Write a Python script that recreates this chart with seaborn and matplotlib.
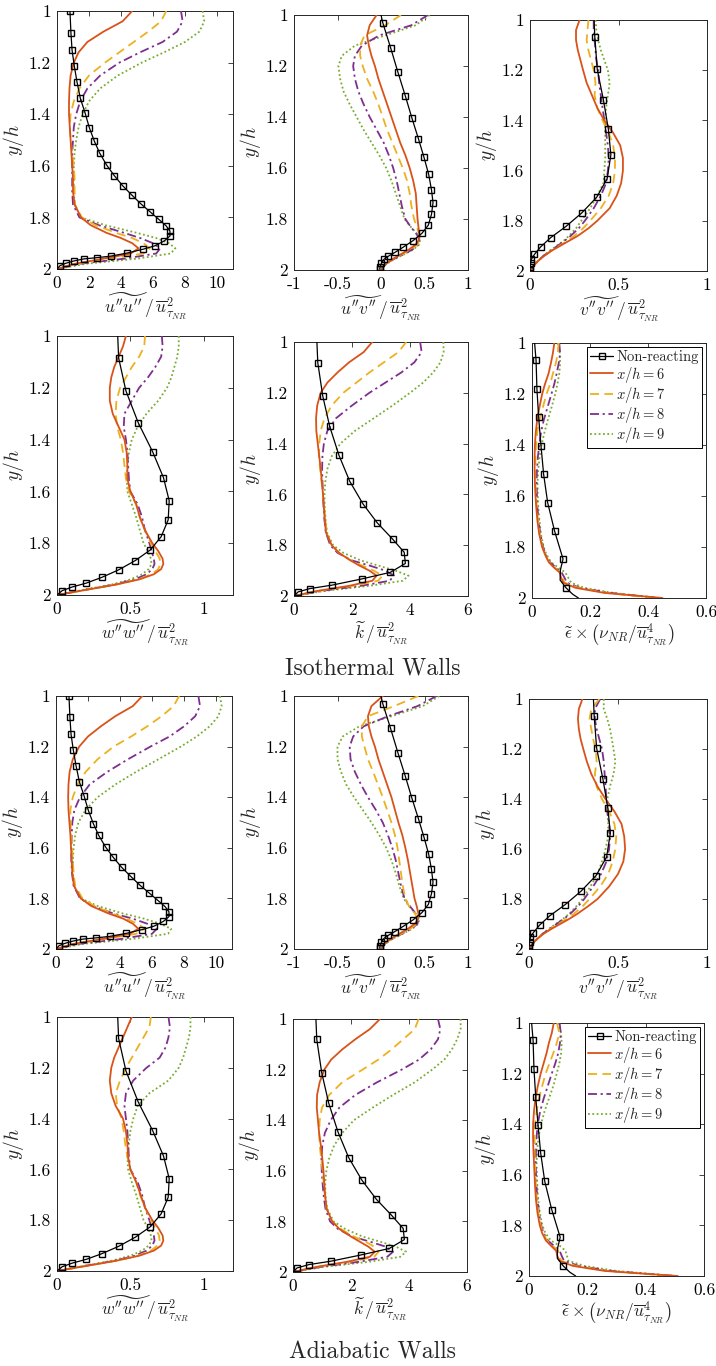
import matplotlib
matplotlib.use("Agg")
import matplotlib.pyplot as plt
from matplotlib.lines import Line2D
import seaborn as sns

# ---------------------------------------------------------------------------
# Wall-normal stations (y/h) of the reacting profiles
Y_GRID = [1.00, 1.04, 1.08, 1.12, 1.16, 1.20, 1.25, 1.30, 1.35, 1.40, 1.45,
          1.50, 1.55, 1.60, 1.65, 1.70, 1.75, 1.80, 1.83, 1.86, 1.88, 1.90,
          1.92, 1.94, 1.96, 1.98, 2.00]

# Non-reacting reference profiles: (y/h, value) pairs
NR_UU_Y = [1.000, 1.084, 1.151, 1.213, 1.275, 1.339, 1.394, 1.452, 1.504, 1.551,
           1.597, 1.638, 1.677, 1.713, 1.748, 1.779, 1.807, 1.832, 1.853, 1.872,
           1.891, 1.910, 1.923, 1.938, 1.950, 1.956, 1.961, 1.969, 1.978, 1.987,
           2.000]
NR_UU = [0.81, 0.87, 0.94, 1.08, 1.25, 1.46, 1.75, 2.02, 2.33, 2.67, 3.10, 3.58,
         4.10, 4.67, 5.25, 5.83, 6.35, 6.81, 7.06, 7.06, 6.71, 6.12, 5.40, 4.40,
         3.37, 2.50, 1.67, 1.04, 0.54, 0.19, 0.00]

NR_UV_Y = [1.000, 1.030, 1.128, 1.225, 1.318, 1.405, 1.485, 1.558, 1.625, 1.685,
           1.736, 1.782, 1.824, 1.856, 1.885, 1.911, 1.931, 1.946, 1.958, 1.974,
           1.987, 1.997]
NR_UV = [0.000, 0.020, 0.110, 0.195, 0.280, 0.356, 0.430, 0.494, 0.548, 0.580,
         0.598, 0.580, 0.544, 0.471, 0.368, 0.253, 0.160, 0.084, 0.034, 0.004,
         -0.010, -0.015]

NR_VV_Y = [1.000, 1.066, 1.197, 1.319, 1.436, 1.537, 1.632, 1.706, 1.769, 1.822,
           1.867, 1.904, 1.934, 1.953, 1.970, 1.984, 1.995]
NR_VV = [0.362, 0.366, 0.380, 0.415, 0.443, 0.457, 0.436, 0.377, 0.292, 0.204,
         0.117, 0.060, 0.025, 0.008, 0.004, 0.000, 0.000]

NR_WW_Y = [1.000, 1.084, 1.212, 1.335, 1.447, 1.547, 1.636, 1.710, 1.775, 1.826,
           1.867, 1.903, 1.932, 1.954, 1.969, 1.983, 2.000]
NR_WW = [0.414, 0.420, 0.470, 0.554, 0.652, 0.726, 0.765, 0.758, 0.710, 0.636,
         0.534, 0.420, 0.305, 0.200, 0.104, 0.036, 0.000]

NR_K_Y = [1.000, 1.081, 1.212, 1.332, 1.446, 1.548, 1.636, 1.712, 1.776, 1.828,
          1.872, 1.907, 1.933, 1.957, 1.971, 1.984, 2.000]
NR_K = [0.79, 0.82, 0.99, 1.23, 1.55, 1.92, 2.37, 2.87, 3.40, 3.80, 3.84, 3.32,
        2.33, 1.32, 0.54, 0.14, 0.00]

NR_EPS_Y = [1.000, 1.068, 1.181, 1.292, 1.403, 1.514, 1.626, 1.738, 1.847, 1.890,
            1.930, 1.961, 1.985, 2.000]
NR_EPS = [0.009, 0.014, 0.017, 0.023, 0.031, 0.040, 0.054, 0.078, 0.107, 0.098,
          0.097, 0.118, 0.140, 0.160]

# marker indices on the non-reacting curves
NR_UU_MARKS = list(range(0, 30))
NR_UV_MARKS = list(range(1, 22))
NR_VV_MARKS = list(range(1, 17))
NR_WW_MARKS = list(range(1, 16))
NR_K_MARKS = list(range(1, 16))
NR_EPS_MARKS = [1, 2, 3, 4, 5, 6, 7, 8, 11]

# ---------------------------------------------------------------------------
# Reacting profiles, isothermal walls; rows are x/h = 6, 7, 8, 9
ISO_UU = [
    [4.70, 4.10, 2.90, 1.90, 1.35, 1.05, 0.85, 0.78, 0.75, 0.75, 0.80, 0.85, 0.90,
     0.95, 1.00, 1.00, 1.10, 1.50, 2.10, 3.10, 4.00, 4.70, 5.10, 4.60, 2.90, 1.10, 0.00],
    [6.83, 6.50, 5.70, 4.80, 3.90, 3.00, 2.00, 1.40, 1.05, 0.85, 0.80, 0.85, 0.95,
     1.05, 1.10, 1.10, 1.12, 1.55, 2.40, 3.70, 4.70, 5.40, 5.80, 5.40, 3.40, 1.20, 0.00],
    [7.75, 7.85, 7.50, 6.60, 5.20, 3.90, 2.70, 1.90, 1.45, 1.20, 1.05, 1.00, 0.95,
     0.95, 0.95, 0.95, 1.00, 1.40, 2.60, 4.20, 5.20, 6.00, 6.45, 6.20, 4.20, 1.40, 0.00],
    [9.10, 9.20, 8.90, 8.00, 6.70, 5.30, 3.80, 2.70, 2.00, 1.60, 1.35, 1.20, 1.10,
     1.05, 1.05, 1.05, 1.10, 1.50, 3.00, 5.00, 6.20, 7.00, 7.40, 7.10, 5.00, 1.80, 0.00],
]
ISO_UV = [
    [-0.05, -0.13, -0.16, -0.14, -0.11, -0.07, -0.03, 0.02, 0.07, 0.12, 0.17, 0.22, 0.28,
     0.33, 0.37, 0.40, 0.41, 0.42, 0.43, 0.44, 0.44, 0.40, 0.32, 0.22, 0.12, 0.04, 0.00],
    [0.23, 0.05, -0.19, -0.24, -0.24, -0.21, -0.16, -0.09, -0.03, 0.02, 0.07, 0.13, 0.19,
     0.25, 0.30, 0.33, 0.35, 0.38, 0.41, 0.44, 0.45, 0.42, 0.34, 0.23, 0.12, 0.04, 0.00],
    [0.54, 0.35, -0.02, -0.22, -0.30, -0.32, -0.30, -0.26, -0.20, -0.13, -0.05, 0.03, 0.09,
     0.14, 0.18, 0.21, 0.24, 0.28, 0.34, 0.41, 0.44, 0.43, 0.36, 0.25, 0.13, 0.04, 0.00],
    [0.56, 0.40, 0.05, -0.30, -0.45, -0.49, -0.47, -0.43, -0.36, -0.28, -0.20, -0.11, -0.02,
     0.06, 0.12, 0.17, 0.22, 0.27, 0.34, 0.42, 0.45, 0.44, 0.37, 0.26, 0.14, 0.05, 0.00],
]
ISO_VV = [
    [0.280, 0.260, 0.260, 0.270, 0.285, 0.300, 0.320, 0.350, 0.380, 0.420, 0.470, 0.510,
     0.525, 0.525, 0.515, 0.490, 0.450, 0.380, 0.330, 0.270, 0.220, 0.170, 0.120, 0.080,
     0.045, 0.020, 0.000],
    [0.330, 0.325, 0.320, 0.330, 0.345, 0.360, 0.370, 0.365, 0.380, 0.410, 0.445, 0.470,
     0.480, 0.480, 0.470, 0.445, 0.400, 0.340, 0.300, 0.250, 0.210, 0.165, 0.120, 0.080,
     0.045, 0.020, 0.000],
    [0.360, 0.360, 0.365, 0.370, 0.375, 0.385, 0.390, 0.400, 0.410, 0.420, 0.430, 0.440,
     0.445, 0.440, 0.430, 0.400, 0.360, 0.310, 0.275, 0.230, 0.195, 0.155, 0.115, 0.075,
     0.045, 0.020, 0.000],
    [0.370, 0.375, 0.385, 0.400, 0.420, 0.440, 0.450, 0.440, 0.430, 0.425, 0.425, 0.425,
     0.425, 0.420, 0.415, 0.380, 0.340, 0.290, 0.260, 0.220, 0.190, 0.150, 0.110, 0.075,
     0.045, 0.020, 0.000],
]
ISO_WW = [
    [0.470, 0.450, 0.420, 0.390, 0.370, 0.360, 0.360, 0.380, 0.420, 0.460, 0.475, 0.480,
     0.480, 0.500, 0.540, 0.565, 0.600, 0.650, 0.690, 0.720, 0.725, 0.710, 0.660, 0.560,
     0.400, 0.200, 0.000],
    [0.600, 0.595, 0.560, 0.510, 0.470, 0.430, 0.405, 0.400, 0.410, 0.435, 0.450, 0.460,
     0.470, 0.490, 0.540, 0.565, 0.600, 0.640, 0.670, 0.700, 0.705, 0.690, 0.645, 0.550,
     0.400, 0.200, 0.000],
    [0.715, 0.720, 0.710, 0.670, 0.620, 0.560, 0.510, 0.460, 0.455, 0.470, 0.480, 0.485,
     0.490, 0.500, 0.550, 0.580, 0.600, 0.630, 0.645, 0.660, 0.665, 0.650, 0.610, 0.530,
     0.390, 0.190, 0.000],
    [0.830, 0.830, 0.820, 0.800, 0.780, 0.750, 0.690, 0.610, 0.550, 0.510, 0.490, 0.480,
     0.475, 0.480, 0.510, 0.540, 0.565, 0.590, 0.620, 0.640, 0.645, 0.625, 0.580, 0.500,
     0.370, 0.180, 0.000],
]
ISO_K = [
    [2.70, 2.40, 1.90, 1.50, 1.15, 0.92, 0.80, 0.76, 0.77, 0.82, 0.87, 0.92, 0.96,
     1.00, 1.03, 1.06, 1.10, 1.30, 1.55, 1.95, 2.25, 2.60, 2.85, 2.70, 1.90, 0.80, 0.00],
    [3.87, 3.60, 3.10, 2.60, 2.15, 1.70, 1.30, 1.05, 0.92, 0.87, 0.86, 0.90, 0.95,
     1.00, 1.04, 1.08, 1.13, 1.30, 1.55, 1.95, 2.35, 2.75, 3.05, 2.90, 2.05, 0.85, 0.00],
    [4.35, 4.40, 4.15, 3.70, 3.15, 2.60, 2.00, 1.45, 1.15, 1.03, 0.98, 0.97, 0.98,
     1.00, 1.02, 1.05, 1.10, 1.25, 1.50, 2.00, 2.60, 3.15, 3.45, 3.30, 2.30, 0.95, 0.00],
    [5.15, 5.16, 5.05, 4.80, 4.45, 4.00, 3.40, 2.75, 2.10, 1.60, 1.30, 1.15, 1.08,
     1.05, 1.06, 1.09, 1.14, 1.35, 1.70, 2.30, 2.90, 3.50, 3.95, 3.75, 2.60, 1.05, 0.00],
]
ISO_EPS = [
    [0.077, 0.072, 0.065, 0.057, 0.045, 0.035, 0.026, 0.018, 0.013, 0.010, 0.009, 0.009,
     0.010, 0.012, 0.015, 0.019, 0.025, 0.035, 0.045, 0.058, 0.075, 0.096, 0.100, 0.108,
     0.150, 0.250, 0.450],
    [0.092, 0.089, 0.082, 0.072, 0.063, 0.050, 0.038, 0.026, 0.018, 0.014, 0.012, 0.011,
     0.012, 0.014, 0.017, 0.021, 0.027, 0.036, 0.045, 0.060, 0.078, 0.097, 0.105, 0.112,
     0.160, 0.260, 0.420],
    [0.094, 0.097, 0.092, 0.085, 0.077, 0.067, 0.054, 0.041, 0.031, 0.025, 0.020, 0.017,
     0.016, 0.017, 0.019, 0.023, 0.029, 0.038, 0.047, 0.062, 0.082, 0.102, 0.112, 0.120,
     0.165, 0.270, 0.440],
    [0.088, 0.096, 0.097, 0.094, 0.088, 0.080, 0.068, 0.055, 0.043, 0.033, 0.026, 0.021,
     0.019, 0.020, 0.022, 0.026, 0.031, 0.040, 0.050, 0.066, 0.090, 0.115, 0.125, 0.135,
     0.180, 0.280, 0.430],
]

# Reacting profiles, adiabatic walls; rows are x/h = 6, 7, 8, 9
ADI_UU = [
    [5.40, 4.80, 3.70, 2.80, 2.00, 1.45, 1.05, 0.85, 0.78, 0.76, 0.78, 0.84, 0.90,
     0.94, 0.98, 1.02, 1.12, 1.55, 2.20, 3.30, 4.20, 4.80, 5.15, 4.60, 2.90, 1.10, 0.00],
    [7.70, 7.35, 6.60, 5.70, 4.70, 3.60, 2.60, 1.85, 1.35, 1.05, 0.90, 0.90, 0.95,
     1.00, 1.05, 1.10, 1.20, 1.65, 2.40, 3.50, 4.40, 5.10, 5.55, 5.00, 3.10, 1.20, 0.00],
    [8.90, 9.00, 8.70, 8.00, 7.10, 5.90, 4.50, 3.20, 2.10, 1.50, 1.15, 1.02, 0.98,
     0.96, 0.96, 1.00, 1.10, 1.50, 2.30, 3.60, 4.80, 5.70, 6.30, 6.00, 4.10, 1.40, 0.00],
    [10.25, 10.35, 10.15, 9.60, 8.80, 7.80, 6.40, 5.00, 3.70, 2.60, 1.85, 1.40, 1.20,
     1.10, 1.06, 1.05, 1.12, 1.55, 2.60, 4.20, 5.50, 6.50, 7.20, 7.00, 4.80, 1.70, 0.00],
]
ADI_UV = [
    [0.02, -0.11, -0.15, -0.14, -0.11, -0.07, -0.03, 0.02, 0.07, 0.12, 0.16, 0.20, 0.245,
     0.28, 0.31, 0.335, 0.36, 0.385, 0.41, 0.43, 0.43, 0.39, 0.31, 0.21, 0.11, 0.035, 0.00],
    [0.43, 0.15, -0.15, -0.22, -0.22, -0.19, -0.15, -0.09, -0.035, 0.02, 0.07, 0.12, 0.16,
     0.19, 0.21, 0.23, 0.25, 0.28, 0.32, 0.39, 0.42, 0.41, 0.34, 0.23, 0.12, 0.04, 0.00],
    [0.64, 0.42, 0.08, -0.20, -0.32, -0.36, -0.35, -0.30, -0.23, -0.15, -0.06, 0.02, 0.08,
     0.13, 0.17, 0.20, 0.23, 0.27, 0.33, 0.40, 0.43, 0.42, 0.35, 0.24, 0.13, 0.04, 0.00],
    [0.67, 0.48, 0.12, -0.25, -0.44, -0.50, -0.50, -0.46, -0.40, -0.31, -0.21, -0.11, -0.02,
     0.06, 0.12, 0.17, 0.21, 0.26, 0.32, 0.40, 0.44, 0.43, 0.36, 0.25, 0.13, 0.045, 0.00],
]
ADI_VV = [
    [0.300, 0.280, 0.275, 0.280, 0.290, 0.305, 0.325, 0.350, 0.385, 0.430, 0.480, 0.520,
     0.535, 0.540, 0.530, 0.500, 0.450, 0.385, 0.330, 0.270, 0.225, 0.175, 0.125, 0.080,
     0.045, 0.020, 0.000],
    [0.395, 0.350, 0.340, 0.350, 0.360, 0.375, 0.380, 0.370, 0.380, 0.410, 0.450, 0.480,
     0.490, 0.485, 0.470, 0.445, 0.400, 0.340, 0.300, 0.250, 0.210, 0.165, 0.120, 0.080,
     0.045, 0.020, 0.000],
    [0.400, 0.370, 0.370, 0.380, 0.395, 0.410, 0.420, 0.425, 0.430, 0.435, 0.440, 0.450,
     0.455, 0.450, 0.435, 0.405, 0.360, 0.310, 0.275, 0.230, 0.195, 0.155, 0.115, 0.075,
     0.045, 0.020, 0.000],
    [0.420, 0.420, 0.440, 0.455, 0.465, 0.475, 0.485, 0.475, 0.455, 0.440, 0.440, 0.445,
     0.445, 0.430, 0.410, 0.385, 0.345, 0.300, 0.265, 0.225, 0.190, 0.150, 0.110, 0.075,
     0.045, 0.020, 0.000],
]
ADI_WW = [
    [0.510, 0.480, 0.450, 0.420, 0.390, 0.370, 0.360, 0.370, 0.400, 0.450, 0.470, 0.480,
     0.485, 0.500, 0.540, 0.570, 0.600, 0.650, 0.690, 0.720, 0.725, 0.710, 0.660, 0.560,
     0.400, 0.200, 0.000],
    [0.640, 0.630, 0.590, 0.550, 0.510, 0.470, 0.430, 0.400, 0.410, 0.440, 0.455, 0.465,
     0.480, 0.500, 0.540, 0.565, 0.600, 0.640, 0.670, 0.695, 0.700, 0.685, 0.640, 0.550,
     0.400, 0.200, 0.000],
    [0.760, 0.770, 0.760, 0.740, 0.700, 0.610, 0.520, 0.470, 0.460, 0.470, 0.480, 0.485,
     0.490, 0.500, 0.550, 0.580, 0.600, 0.630, 0.645, 0.660, 0.665, 0.650, 0.610, 0.530,
     0.390, 0.190, 0.000],
    [0.910, 0.910, 0.900, 0.880, 0.860, 0.830, 0.760, 0.630, 0.550, 0.520, 0.500, 0.490,
     0.480, 0.485, 0.510, 0.540, 0.565, 0.590, 0.620, 0.640, 0.645, 0.625, 0.580, 0.500,
     0.370, 0.180, 0.000],
]
ADI_K = [
    [3.00, 2.65, 2.15, 1.70, 1.32, 1.08, 0.92, 0.83, 0.82, 0.86, 0.90, 0.96, 1.01,
     1.05, 1.08, 1.11, 1.16, 1.35, 1.60, 2.00, 2.30, 2.60, 2.82, 2.65, 1.85, 0.80, 0.00],
    [4.33, 4.20, 3.80, 3.40, 2.95, 2.40, 1.70, 1.25, 1.00, 0.92, 0.90, 0.92, 0.97,
     1.02, 1.06, 1.10, 1.16, 1.35, 1.65, 2.10, 2.50, 2.80, 2.95, 2.80, 1.95, 0.82, 0.00],
    [5.00, 5.08, 5.00, 4.75, 4.35, 3.75, 2.90, 2.15, 1.60, 1.30, 1.10, 1.01, 0.98,
     0.99, 1.02, 1.06, 1.12, 1.28, 1.55, 2.05, 2.65, 3.20, 3.45, 3.25, 2.25, 0.95, 0.00],
    [5.78, 5.78, 5.66, 5.48, 5.22, 4.80, 4.20, 3.45, 2.75, 2.10, 1.70, 1.42, 1.25,
     1.15, 1.11, 1.12, 1.18, 1.40, 1.80, 2.40, 3.00, 3.55, 3.90, 3.70, 2.60, 1.05, 0.00],
]
ADI_EPS = [
    [0.085, 0.078, 0.068, 0.060, 0.050, 0.040, 0.030, 0.022, 0.017, 0.014, 0.014, 0.015,
     0.017, 0.019, 0.021, 0.024, 0.029, 0.037, 0.045, 0.058, 0.075, 0.093, 0.097, 0.105,
     0.150, 0.260, 0.510],
    [0.096, 0.104, 0.095, 0.083, 0.070, 0.057, 0.045, 0.034, 0.026, 0.021, 0.019, 0.019,
     0.020, 0.022, 0.024, 0.027, 0.032, 0.040, 0.048, 0.062, 0.080, 0.100, 0.105, 0.110,
     0.160, 0.270, 0.490],
    [0.105, 0.109, 0.106, 0.100, 0.090, 0.078, 0.064, 0.050, 0.038, 0.030, 0.026, 0.024,
     0.023, 0.024, 0.026, 0.029, 0.034, 0.042, 0.050, 0.065, 0.085, 0.105, 0.112, 0.120,
     0.170, 0.280, 0.500],
    [0.100, 0.110, 0.112, 0.110, 0.104, 0.095, 0.083, 0.068, 0.053, 0.041, 0.033, 0.028,
     0.026, 0.027, 0.029, 0.032, 0.037, 0.046, 0.056, 0.075, 0.105, 0.125, 0.130, 0.135,
     0.190, 0.300, 0.500],
]

# ---------------------------------------------------------------------------
CASE_LABELS = ["Non-reacting", r"$x/h = 6$", r"$x/h = 7$", r"$x/h = 8$", r"$x/h = 9$"]
CASE_COLORS = ["#000000", "#D95319", "#EDB120", "#7E2F8E", "#77AC30"]
CASE_STYLES = ["-", "-", (0, (5.0, 3.0)), (0, (5.0, 2.0, 1.2, 2.0)), (0, (1.0, 1.4))]

Y_TICKS = [1.0, 1.2, 1.4, 1.6, 1.8, 2.0]
Y_TICKLABELS = ["1", "1.2", "1.4", "1.6", "1.8", "2"]

XL_UU = r"$\widetilde{u^{\prime\prime}u^{\prime\prime}}\,/\,\overline{u}^{2}_{\tau_{NR}}$"
XL_UV = r"$\widetilde{u^{\prime\prime}v^{\prime\prime}}\,/\,\overline{u}^{2}_{\tau_{NR}}$"
XL_VV = r"$\widetilde{v^{\prime\prime}v^{\prime\prime}}\,/\,\overline{u}^{2}_{\tau_{NR}}$"
XL_WW = r"$\widetilde{w^{\prime\prime}w^{\prime\prime}}\,/\,\overline{u}^{2}_{\tau_{NR}}$"
XL_K = r"$\widetilde{k}\,/\,\overline{u}^{2}_{\tau_{NR}}$"
XL_EPS = r"$\widetilde{\epsilon}\times\left(\nu_{NR}/\overline{u}^{4}_{\tau_{NR}}\right)$"

# ---------------------------------------------------------------------------
sns.set_style("white")
plt.rcParams.update({
    "font.family": "serif",
    "font.serif": ["cmr10"],
    "mathtext.fontset": "cm",
    "axes.unicode_minus": False,
    "axes.formatter.use_mathtext": True,
    "axes.edgecolor": "#262626",
    "axes.linewidth": 0.7,
})

W, H = 716, 1366
fig = plt.figure(figsize=(W / 100, H / 100), dpi=100)
fig.patch.set_facecolor("white")


def rect(left, top, right, bottom):
    return [left / W, 1 - bottom / H, (right - left) / W, (bottom - top) / H]


# (axes box in px, reacting data, nr y, nr x, nr marks, xlim, xticks, xticklabels, xlabel)
PANELS = [
    ((57, 11, 233, 269), ISO_UU, NR_UU_Y, NR_UU, NR_UU_MARKS, (0, 11),
     [0, 2, 4, 6, 8, 10], ["0", "2", "4", "6", "8", "10"], XL_UU),
    ((294, 15, 468, 270), ISO_UV, NR_UV_Y, NR_UV, NR_UV_MARKS, (-1, 1),
     [-1, -0.5, 0, 0.5, 1], ["-1", "-0.5", "0", "0.5", "1"], XL_UV),
    ((530, 20, 707, 271), ISO_VV, NR_VV_Y, NR_VV, NR_VV_MARKS, (0, 1),
     [0, 0.5, 1], ["0", "0.5", "1"], XL_VV),
    ((57, 336, 233, 595), ISO_WW, NR_WW_Y, NR_WW, NR_WW_MARKS, (0, 1.2),
     [0, 0.5, 1], ["0", "0.5", "1"], XL_WW),
    ((294, 342, 468, 596), ISO_K, NR_K_Y, NR_K, NR_K_MARKS, (0, 6),
     [0, 2, 4, 6], ["0", "2", "4", "6"], XL_K),
    ((532, 343, 706, 598), ISO_EPS, NR_EPS_Y, NR_EPS, NR_EPS_MARKS, (0, 0.6),
     [0, 0.2, 0.4, 0.6], ["0", "0.2", "0.4", "0.6"], XL_EPS),
    ((56, 696, 232, 949), ADI_UU, NR_UU_Y, NR_UU, NR_UU_MARKS, (0, 11),
     [0, 2, 4, 6, 8, 10], ["0", "2", "4", "6", "8", "10"], XL_UU),
    ((294, 696, 468, 949), ADI_UV, NR_UV_Y, NR_UV, NR_UV_MARKS, (-1, 1),
     [-1, -0.5, 0, 0.5, 1], ["-1", "-0.5", "0", "0.5", "1"], XL_UV),
    ((529, 699, 707, 949), ADI_VV, NR_VV_Y, NR_VV, NR_VV_MARKS, (0, 1),
     [0, 0.5, 1], ["0", "0.5", "1"], XL_VV),
    ((57, 1017, 233, 1271), ADI_WW, NR_WW_Y, NR_WW, NR_WW_MARKS, (0, 1.2),
     [0, 0.5, 1], ["0", "0.5", "1"], XL_WW),
    ((293, 1019, 467, 1272), ADI_K, NR_K_Y, NR_K, NR_K_MARKS, (0, 6),
     [0, 2, 4, 6], ["0", "2", "4", "6"], XL_K),
    ((529, 1023, 704, 1276), ADI_EPS, NR_EPS_Y, NR_EPS, NR_EPS_MARKS, (0, 0.6),
     [0, 0.2, 0.4, 0.6], ["0", "0.2", "0.4", "0.6"], XL_EPS),
]

LEGEND_PANELS = {5, 11}

for idx, (box, cases, nr_y, nr_x, nr_marks, xlim, xt, xtl, xlab) in enumerate(PANELS):
    ax = fig.add_axes(rect(*box))
    ax.set_facecolor("white")

    # reacting profiles, drawn back to front so x/h = 6 sits on top
    for k in range(3, -1, -1):
        sns.lineplot(x=cases[k], y=Y_GRID, ax=ax, sort=False, estimator=None,
                     color=CASE_COLORS[k + 1], linestyle=CASE_STYLES[k + 1],
                     linewidth=1.3, zorder=3 + (3 - k))

    # non-reacting reference with open square markers
    sns.lineplot(x=nr_x, y=nr_y, ax=ax, sort=False, estimator=None,
                 color=CASE_COLORS[0], linestyle="-", linewidth=0.9,
                 marker="s", markevery=nr_marks, markersize=5.0,
                 markerfacecolor="none", markeredgecolor="black",
                 markeredgewidth=1.0, zorder=8)

    ax.set_xlim(*xlim)
    ax.set_ylim(2.0, 1.0)
    ax.set_xticks(xt)
    ax.set_xticklabels(xtl)
    ax.set_yticks(Y_TICKS)
    ax.set_yticklabels(Y_TICKLABELS)
    ax.tick_params(direction="in", top=True, right=True, length=3.5, width=0.6,
                   labelsize=12.5, pad=4.5, colors="#262626", labelcolor="black")
    ax.set_xlabel(xlab, fontsize=12.5, labelpad=1)
    ax.set_ylabel(r"$y/h$", fontsize=14, labelpad=2)
    for sp in ax.spines.values():
        sp.set_visible(True)
        sp.set_linewidth(0.7)
        sp.set_color("#262626")

    if idx in LEGEND_PANELS:
        handles = [Line2D([], [], color=CASE_COLORS[0], linestyle="-", linewidth=0.9,
                          marker="s", markersize=5.0, markerfacecolor="none",
                          markeredgecolor="black", markeredgewidth=1.0)]
        for k in range(4):
            handles.append(Line2D([], [], color=CASE_COLORS[k + 1],
                                  linestyle=CASE_STYLES[k + 1], linewidth=1.3))
        leg = ax.legend(handles=handles, labels=CASE_LABELS, loc="upper right",
                        fontsize=10.5, frameon=True, fancybox=False,
                        edgecolor="black", framealpha=1.0, borderpad=0.2,
                        labelspacing=0.02, handlelength=1.6, handletextpad=0.2,
                        borderaxespad=0.3)
        leg.get_frame().set_linewidth(0.7)
    else:
        lg = ax.get_legend()
        if lg is not None:
            lg.remove()

fig.text(373 / W, 1 - 668 / H, "Isothermal Walls", ha="center", va="center",
         fontsize=17)
fig.text(372 / W, 1 - 1352 / H, "Adiabatic Walls", ha="center", va="center",
         fontsize=17)

fig.savefig("out.png", dpi=100, facecolor="white")
